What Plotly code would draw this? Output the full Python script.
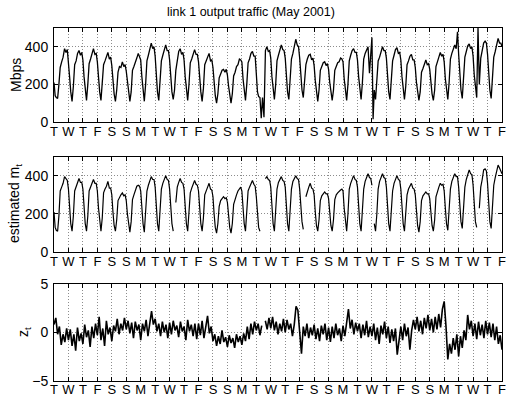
import plotly.graph_objects as go

# ---- data -------------------------------------------------------------
day_letters = ["T", "W", "T", "F", "S", "S", "M"] * 4 + ["T", "W", "T", "F"]
n_days = 31

# sample positions within each day (fraction of a day)
traffic_fracs = [0.0, 0.08, 0.16, 0.25, 0.34, 0.43, 0.53, 0.63, 0.73, 0.83, 0.92]

# link 1 output traffic (Mbps), one list per day
traffic = [
    [210, 140, 130, 125, 200, 290, 320, 345, 390, 370, 385],
    [330, 240, 160, 110, 190, 305, 325, 365, 380, 355, 370],
    [330, 240, 160, 115, 200, 310, 335, 365, 390, 360, 365],
    [320, 235, 160, 115, 190, 305, 325, 350, 370, 335, 345],
    [300, 220, 150, 110, 170, 265, 295, 290, 320, 295, 305],
    [270, 210, 150, 110, 160, 275, 295, 325, 340, 365, 350],
    [330, 240, 160, 110, 200, 325, 355, 395, 420, 390, 400],
    [350, 250, 160, 115, 200, 325, 355, 385, 410, 380, 380],
    [330, 240, 160, 120, 170, 275, 335, 375, 390, 360, 370],
    [330, 240, 160, 115, 200, 315, 335, 365, 385, 360, 360],
    [320, 230, 160, 110, 180, 305, 325, 350, 365, 325, 330],
    [290, 210, 140, 100, 150, 235, 255, 275, 280, 265, 280],
    [250, 190, 140, 100, 150, 245, 265, 295, 305, 335, 330],
    [320, 230, 160, 115, 200, 315, 335, 365, 375, 350, 350],
    [250, 160, 135, 130, 20, 130, 25, 380, 400, 375, 380],
    [340, 240, 160, 120, 200, 325, 355, 390, 410, 385, 380],
    [340, 240, 160, 120, 210, 335, 365, 405, 440, 410, 400],
    [340, 240, 170, 130, 200, 305, 335, 355, 360, 330, 340],
    [300, 220, 150, 110, 170, 275, 295, 315, 320, 300, 310],
    [280, 210, 150, 115, 170, 275, 295, 315, 320, 340, 335],
    [320, 230, 160, 115, 200, 325, 355, 380, 390, 370, 370],
    [330, 240, 160, 120, 210, 335, 365, 385, 400, 260, 385],
    [450, 15, 170, 120, 200, 325, 345, 375, 400, 380, 380],
    [340, 240, 160, 120, 200, 325, 355, 385, 395, 365, 370],
    [330, 240, 160, 120, 190, 305, 325, 350, 360, 330, 330],
    [290, 210, 150, 115, 160, 265, 285, 305, 330, 305, 310],
    [280, 210, 150, 115, 170, 295, 315, 345, 370, 350, 360],
    [320, 230, 160, 120, 210, 335, 365, 395, 410, 390, 480],
    [360, 260, 170, 125, 220, 345, 375, 405, 415, 390, 400],
    [350, 250, 170, 130, 500, 200, 340, 385, 420, 430, 420],
    [360, 260, 170, 125, 220, 345, 375, 415, 445, 420, 420],
]
traffic_end = 400

# estimated m_t (Mbps), one list per day (None = missing)
m_est = [
    [210, 130, 115, 110, 190, 320, 340, 360, 395, 380, 375],
    [330, 230, 150, 110, 190, 320, 345, 365, 385, 365, 365],
    [330, 230, 150, 110, 190, 320, 345, 360, 380, 360, 360],
    [320, 230, 150, 110, 180, 310, 330, 345, 370, 335, 335],
    [300, 210, 140, 110, 170, 270, 290, 300, 310, 295, 300],
    [270, 200, 140, 105, 160, 275, 300, 320, 345, 350, 345],
    [320, 230, 150, 105, 190, 320, 350, 370, 395, 380, 380],
    [340, 240, 150, 110, 200, 330, 360, 380, 400, 380, 375],
    [330, 230, 150, 110, None, 260, 340, 365, 385, 365, 360],
    [330, 230, 150, 110, 190, 310, 335, 355, 375, 355, 350],
    [320, 230, 150, 110, 180, 300, 325, 340, 360, 330, 325],
    [290, 200, 130, 100, 150, 240, 270, 280, 290, 280, 285],
    [260, 190, 130, 100, 150, 250, 280, 300, 320, 335, 340],
    [320, 230, 150, 110, 200, 320, 340, 360, 375, 355, 345],
    [290, 200, 130, 110, None, None, None, 385, 395, 380, 375],
    [340, 240, 150, 110, 200, 330, 365, 380, 395, 375, 370],
    [340, 240, 150, 110, 200, 330, 370, 385, 400, 385, 380],
    [330, 240, 160, 120, None, 290, 320, 340, 360, 335, 330],
    [300, 210, 140, 110, 170, 270, 295, 305, 315, 305, 305],
    [280, 200, 140, 110, 170, 275, 300, 310, 320, 325, 330],
    [320, 230, 150, 110, 200, 330, 360, 380, 400, 380, 375],
    [340, 240, 150, 110, 200, 330, 370, 390, 410, 390, 385],
    [350, None, 150, 110, 200, 330, 370, 390, 410, 390, 385],
    [340, 240, 150, 110, 200, 320, 360, 380, 400, 380, 375],
    [330, 240, 150, 110, 190, 300, 330, 345, 360, 335, 330],
    [300, 210, 140, 105, 160, 270, 295, 305, 315, 305, 305],
    [280, 210, 140, 110, 170, 290, 320, 340, 360, 350, 355],
    [320, 230, 150, 115, 200, 330, 370, 390, 410, 395, 395],
    [340, 240, 160, 125, 210, 340, 380, 400, 430, 410, 405],
    [350, 250, 160, 130, None, 230, 340, 380, 430, 435, 425],
    [360, 250, 160, 125, 220, 350, 390, 420, 455, 440, 425],
]
m_est_end = 410

# residual z_t, eight samples per day
z_fracs = [0.0, 0.125, 0.25, 0.375, 0.5, 0.625, 0.75, 0.875]
z_res = [
    [0.8, 1.5, -0.2, 0.6, -1.3, -0.2, -1.0, 0.4],
    [-0.8, 0.3, -1.4, -0.2, -1.9, 0.5, -0.9, -0.1],
    [-1.2, 0.8, -0.5, 0.2, -1.5, 0.6, -0.6, 0.9],
    [-0.3, 1.6, -0.8, 0.4, -1.4, 1.2, -0.2, 0.5],
    [-0.9, 0.7, 0.1, 1.4, -0.2, 0.9, 0.2, 1.5],
    [0.3, 1.2, -0.1, 1.0, -0.6, 1.1, 0.2, 0.8],
    [-0.8, 0.9, 0.1, 1.3, -0.4, 1.0, 2.2, 0.8],
    [1.4, 0.1, 0.9, -0.4, 1.1, 0.0, 0.8, -0.6],
    [1.0, -0.2, 1.2, 0.2, 0.7, -0.5, 1.1, 0.1],
    [0.6, -0.8, 1.3, 0.1, 0.8, -0.4, 0.9, -0.7],
    [0.9, -0.3, 1.2, -0.6, 0.7, 1.7, -0.1, 0.6],
    [-0.9, -0.2, -1.4, -0.4, -1.2, 0.2, -1.0, -0.5],
    [-1.5, -0.3, -1.1, -0.6, -1.6, -0.2, -1.0, -0.4],
    [-1.3, -0.1, -0.9, 0.6, -0.7, 0.9, -0.2, 1.1],
    [0.2, 0.9, -0.3, 0.7, None, 1.2, 0.3, 1.5],
    [0.4, 1.6, 0.2, 1.1, -0.2, 0.9, 0.1, 1.4],
    [0.0, 1.3, 0.3, 0.9, -0.4, 0.8, 2.7, 2.3],
    [-0.5, -2.2, 0.6, -0.4, 0.9, -0.6, 0.5, -0.3],
    [0.8, -0.7, 0.4, -0.9, 0.7, -0.2, 0.9, -0.8],
    [0.5, -1.0, 0.6, -0.6, 0.9, -0.3, 0.4, -0.9],
    [0.7, -0.4, 1.0, 2.4, 0.4, 1.3, -0.2, 1.0],
    [0.1, 0.9, -0.6, 0.8, -0.3, 1.2, -0.5, 0.6],
    [-0.4, 0.9, -0.8, 0.5, -1.2, 0.7, -0.2, 1.1],
    [-0.6, 0.6, -1.1, 0.3, -0.9, 0.4, -2.3, -0.5],
    [0.6, -0.8, 0.9, -0.4, 0.5, -1.8, 0.2, 1.3],
    [0.3, 1.6, 0.1, 1.2, -0.2, 1.5, 0.4, 1.8],
    [0.2, 1.4, 0.0, 1.6, 0.3, 1.9, 0.5, 2.4],
    [3.2, 0.6, -2.8, -1.2, -2.2, -0.6, -1.8, -0.2],
    [-2.5, -0.4, -1.6, 0.2, -0.8, 1.8, 0.3, 1.2],
    [-0.4, 0.9, -0.7, 1.1, -0.3, 0.8, -0.6, 1.2],
    [-0.2, 1.0, -0.5, 0.9, -0.8, 0.6, -1.2, -0.3],
]
z_end = -1.8


def flatten(per_day, fracs, end_value):
    xs, ys = [], []
    for d, vals in enumerate(per_day):
        for f, v in zip(fracs, vals):
            xs.append(d + f)
            ys.append(v)
    xs.append(len(per_day))
    ys.append(end_value)
    return xs, ys


tx, ty = flatten(traffic, traffic_fracs, traffic_end)
mx, my = flatten(m_est, traffic_fracs, m_est_end)
zx, zy = flatten(z_res, z_fracs, z_end)

# ---- figure ------------------------------------------------------------
FONT = "Liberation Sans, Arial, Helvetica, sans-serif"
W, H = 506, 406
ml, mr, mt, mb = 54, 4, 28, 25

fig = go.Figure()
fig.add_trace(go.Scatter(x=tx, y=ty, mode="lines", line=dict(color="black", width=1.3),
                         xaxis="x", yaxis="y", connectgaps=False))
fig.add_trace(go.Scatter(x=mx, y=my, mode="lines", line=dict(color="black", width=1.2),
                         xaxis="x2", yaxis="y2", connectgaps=False))
fig.add_trace(go.Scatter(x=zx, y=zy, mode="lines", line=dict(color="black", width=1.6),
                         xaxis="x3", yaxis="y3", connectgaps=False))

ph = H - mt - mb
def dom(top_px, bot_px):
    return [(H - mb - bot_px) / ph, (H - mb - top_px) / ph]

GRID_COLOR = "#8c8c8c"
GRID_DASH = "1px,2px"

xcommon = dict(
    range=[0, n_days],
    tickmode="array",
    tickvals=list(range(n_days + 1)),
    ticktext=day_letters,
    ticks="inside",
    ticklen=4,
    tickcolor="black",
    showline=True,
    linecolor="black",
    linewidth=1,
    mirror="ticks",
    showgrid=True,
    gridcolor=GRID_COLOR,
    griddash=GRID_DASH,
    gridwidth=1,
    zeroline=False,
    automargin=False,
    ticklabeloverflow="allow",
    ticklabelstandoff=-3,
    tickfont=dict(family=FONT, size=13, color="black"),
    fixedrange=True,
)
ycommon = dict(
    ticks="inside",
    ticklen=4,
    tickcolor="black",
    showline=True,
    linecolor="black",
    linewidth=1,
    mirror="ticks",
    showgrid=True,
    gridcolor=GRID_COLOR,
    griddash=GRID_DASH,
    gridwidth=1,
    zeroline=False,
    automargin=False,
    ticklabeloverflow="allow",
    tickfont=dict(family=FONT, size=14, color="black"),
    ticklabelstandoff=2,
    fixedrange=True,
)

fig.update_layout(
    width=W,
    height=H,
    margin=dict(l=ml, r=mr, t=mt, b=mb, autoexpand=False),
    paper_bgcolor="white",
    plot_bgcolor="white",
    showlegend=False,
    xaxis=dict(xcommon, anchor="y", domain=[0, 1]),
    xaxis2=dict(xcommon, anchor="y2", domain=[0, 1]),
    xaxis3=dict(xcommon, anchor="y3", domain=[0, 1]),
    yaxis=dict(ycommon, anchor="x", domain=dom(28, 122), range=[0, 500], tickvals=[0, 200, 400]),
    yaxis2=dict(ycommon, anchor="x2", domain=dom(156.5, 252.3), range=[0, 500], tickvals=[0, 200, 400]),
    yaxis3=dict(ycommon, anchor="x3", domain=dom(284, 380.7), range=[-5, 5], tickvals=[-5, 0, 5],
                ticktext=["\u22125", "0", "5"]),
)

def px_to_paper_x(px):
    return (px - ml) / (W - ml - mr)

def px_to_paper_y(py):
    return (H - mb - py) / ph

annots = [
    dict(text="link 1 output traffic (May 2001)", x=px_to_paper_x(251), y=px_to_paper_y(12),
         font=dict(family=FONT, size=12.5, color="black"), textangle=0),
    dict(text="Mbps", x=px_to_paper_x(16), y=px_to_paper_y(75),
         font=dict(family=FONT, size=14, color="black"), textangle=-90),
    dict(text="estimated m<sub>t</sub>", x=px_to_paper_x(15), y=px_to_paper_y(204),
         font=dict(family=FONT, size=14, color="black"), textangle=-90),
    dict(text="z<sub>t</sub>", x=px_to_paper_x(24), y=px_to_paper_y(332),
         font=dict(family=FONT, size=14, color="black"), textangle=-90),
]
for a in annots:
    a.update(xref="paper", yref="paper", showarrow=False, xanchor="center", yanchor="middle")
fig.update_layout(annotations=annots)

fig.write_html(
    "out.html",
    config={"displayModeBar": False},
    post_script="document.body.style.margin='0px';document.body.style.overflow='hidden';",
)
